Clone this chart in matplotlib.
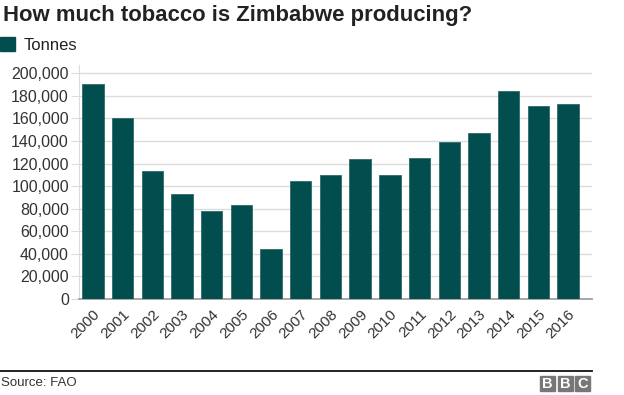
import matplotlib
matplotlib.use("Agg")
import matplotlib.pyplot as plt
from matplotlib.patches import Patch, Rectangle
from matplotlib.lines import Line2D
from matplotlib.ticker import FuncFormatter

# Data
years = ["2000", "2001", "2002", "2003", "2004", "2005", "2006", "2007", "2008",
         "2009", "2010", "2011", "2012", "2013", "2014", "2015", "2016"]
tonnes = [190500, 160400, 113400, 93000, 78000, 83300, 44300, 104600, 109900,
          124000, 109900, 125000, 139100, 147100, 184300, 171000, 172800]
y_ticks = list(range(0, 200001, 20000))

BAR = "#024e4e"
GRID = "#dcdcdc"
TEXT = "#222222"

plt.rcParams["font.family"] = ["Liberation Sans", "DejaVu Sans"]

W, H = 624, 395
fig = plt.figure(figsize=(W / 100, H / 100), dpi=100)

# axes box in pixel terms
left, right, top, bottom = 78.7, 592, 65, 299
ax = fig.add_axes([left / W, 1 - bottom / H, (right - left) / W, (bottom - top) / H])

x = list(range(len(years)))
ax.bar(x, tonnes, width=0.72, color=BAR, edgecolor="#2f6a6a", linewidth=0.6, zorder=3)

ax.set_xlim(-0.48, len(years) - 1 + 0.81)
ax.set_ylim(0, 200000 * (bottom - top) / (bottom - 73.3))
ax.set_yticks(y_ticks)
ax.yaxis.set_major_formatter(FuncFormatter(lambda v, p: f"{int(v):,}"))
ax.grid(axis="y", color=GRID, linewidth=1, zorder=0)

ax.set_xticks(x)
ax.set_xticklabels(years, rotation=45, ha="right", rotation_mode="anchor")

for s in ["top", "right"]:
    ax.spines[s].set_visible(False)
ax.spines["left"].set_color(GRID)
ax.spines["bottom"].set_color("#a0a0a0")
ax.spines["bottom"].set_linewidth(1.3)

ax.tick_params(axis="y", length=6, color=GRID, labelsize=11.5, labelcolor="#333333", pad=1)
ax.tick_params(axis="x", length=0, labelsize=11, labelcolor="#333333", pad=6)

# title
fig.text(3 / W, 1 - 15.5 / H, "How much tobacco is Zimbabwe producing?",
         fontsize=15.9, fontweight="bold", color=TEXT, va="center", ha="left")

# legend
fig.legend(handles=[Patch(facecolor=BAR, edgecolor=BAR)], labels=["Tonnes"],
           loc="upper left", bbox_to_anchor=(0, 1 - 37 / H), frameon=False,
           fontsize=12, handlelength=0.9, handleheight=0.9, handletextpad=0.5,
           borderpad=0, borderaxespad=0, labelcolor=TEXT)

# footer
fig.add_artist(Line2D([0, right / W], [1 - 371 / H] * 2, color="#111111", linewidth=1.3))
fig.text(1 / W, 1 - 383 / H, "Source: FAO", fontsize=9.5, color="#333333",
         va="center", ha="left")

# BBC blocks
for i, letter in enumerate("BBC"):
    x0 = 540 + i * 17.5
    fig.add_artist(Rectangle((x0 / W, 1 - 391 / H), 15 / W, 15 / H,
                             transform=fig.transFigure, color="#777777"))
    fig.text((x0 + 7.5) / W, 1 - 383.5 / H, letter, color="white", fontsize=10.5,
             fontweight="bold", ha="center", va="center")

fig.savefig("out.png", dpi=100)
